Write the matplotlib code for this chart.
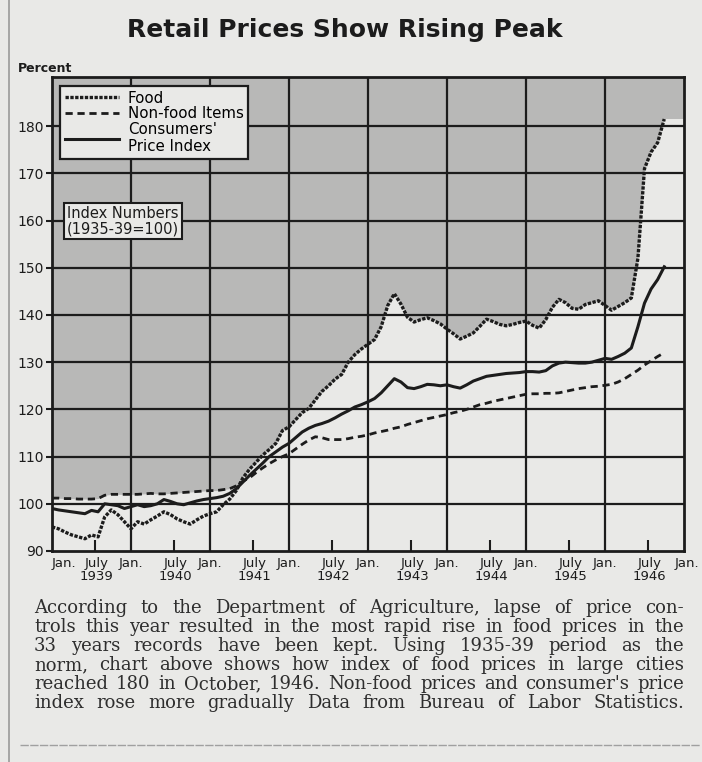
import numpy as np
import matplotlib
matplotlib.use("Agg")
from matplotlib import pyplot as plt
from matplotlib.lines import Line2D

# monthly index values, Jan 1939 .. Oct 1946 (1935-39 = 100)
food = [95.1, 94.7, 94.0, 93.4, 93.0, 92.6, 93.4, 93.0, 97.2, 98.7, 97.7, 96.2,      # 1939
        94.7, 96.2, 95.7, 96.6, 97.4, 98.3, 97.7, 96.8, 96.2, 95.7, 96.6, 97.4,      # 1940
        97.9, 98.3, 99.8, 101.0, 102.8, 105.5, 107.3, 108.8, 110.3, 111.5, 112.8, 115.5,  # 1941
        116.3, 117.8, 119.3, 120.2, 122.0, 123.8, 125.0, 126.4, 127.4, 130.0, 131.6, 132.8,  # 1942
        133.8, 134.8, 137.5, 142.0, 144.5, 142.3, 139.5, 138.5, 139.0, 139.4, 138.8, 138.1,  # 1943
        137.0, 136.0, 134.9, 135.5, 136.2, 137.6, 139.1, 138.6, 138.0, 137.7, 138.0, 138.4,  # 1944
        138.7, 137.8, 137.2, 139.0, 141.6, 143.3, 142.6, 141.4, 141.2, 142.2, 142.6, 143.0,  # 1945
        142.0, 141.0, 141.8, 142.6, 143.6, 152.0, 171.0, 174.5, 176.5, 181.5]             # 1946

nonfood = [101.2, 101.2, 101.1, 101.1, 101.0, 101.0, 101.0, 101.1, 101.8, 102.0, 102.0, 102.0,
           102.0, 102.0, 102.1, 102.2, 102.1, 102.1, 102.2, 102.3, 102.4, 102.5, 102.6, 102.7,
           102.8, 102.8, 103.0, 103.2, 103.8, 104.8, 105.5, 106.6, 107.6, 108.5, 109.3, 110.0,
           110.6, 111.6, 112.6, 113.5, 114.2, 114.0, 113.6, 113.6, 113.6, 113.8, 114.1, 114.3,
           114.6, 115.0, 115.3, 115.6, 116.0, 116.3, 116.8, 117.2, 117.6, 118.0, 118.3, 118.6,
           118.9, 119.3, 119.6, 120.0, 120.5, 121.0, 121.3, 121.7, 122.0, 122.3, 122.6, 122.9,
           123.2, 123.3, 123.3, 123.4, 123.4, 123.5, 123.8, 124.1, 124.4, 124.6, 124.8, 124.9,
           125.1, 125.3, 125.8, 126.5, 127.4, 128.3, 129.4, 130.3, 131.2, 132.0]

cpi = [99.0, 98.7, 98.5, 98.3, 98.1, 97.9, 98.6, 98.3, 100.0, 99.8, 99.6, 99.0,
       99.4, 99.8, 99.4, 99.6, 100.0, 100.9, 100.5, 100.0, 99.8, 100.2, 100.6, 100.9,
       101.1, 101.3, 101.6, 102.2, 103.2, 104.6, 106.0, 107.3, 108.6, 110.0, 111.0, 112.0,
       112.8, 114.0, 115.2, 116.0, 116.6, 117.0, 117.5, 118.2, 119.0, 119.7, 120.5, 121.0,
       121.6, 122.3, 123.5, 125.0, 126.5, 125.8, 124.6, 124.4, 124.8, 125.3, 125.2, 125.0,
       125.2, 124.8, 124.5, 125.2, 126.0, 126.5, 127.0, 127.2, 127.4, 127.6, 127.7, 127.8,
       128.0, 128.0, 127.9, 128.2, 129.2, 129.8, 130.0, 129.9, 129.8, 129.8, 130.0, 130.4,
       130.8, 130.6, 131.2, 131.9, 133.0, 137.5, 142.5, 145.5, 147.5, 150.2]

years = ["1939", "1940", "1941", "1942", "1943", "1944", "1945", "1946"]
y_ticks = [90, 100, 110, 120, 130, 140, 150, 160, 170, 180]

caption = [
    "According to the Department of Agriculture, lapse of price con-",
    "trols this year resulted in the most rapid rise in food prices in the",
    "33 years records have been kept.  Using 1935-39 period as the",
    "norm, chart above shows how index of food prices in large cities",
    "reached 180 in October, 1946. Non-food prices and consumer's price",
    "index rose more gradually   Data from Bureau of Labor Statistics.",
]

ink = "#1c1c1c"
paper = "#e9e9e7"
shade = "#b8b8b7"

W, H = 702, 762
fig = plt.figure(figsize=(W / 100, H / 100), dpi=100, facecolor=paper)
ax = fig.add_axes([52 / W, 1 - 551 / H, 632 / W, 474 / H])
ax.set_facecolor(paper)

months = np.arange(len(food))
top_line = np.maximum(np.maximum(food, nonfood), cpi)
ymax = 190.4
ax.fill_between(months, top_line, ymax, color=shade, lw=0, zorder=0)
ax.fill_between([months[-1], 96], food[-1], ymax, color=shade, lw=0, zorder=0)

ax.set_xlim(0, 96)
ax.set_ylim(90, ymax)

# grid
for m in range(12, 96, 12):
    ax.axvline(m, color=ink, lw=1.6, zorder=1)
for v in y_ticks[1:]:
    ax.axhline(v, color=ink, lw=1.6, zorder=1)

ax.plot(months, nonfood, color=ink, lw=2.0, dashes=(2.6, 1.7), zorder=3)
ax.plot(months, cpi, color=ink, lw=2.2, zorder=3)
ax.plot(months, food, color=ink, lw=2.4, linestyle=(0, (1.0, 0.45)), zorder=4)

for s in ax.spines.values():
    s.set_linewidth(2.0)
    s.set_color(ink)

ax.set_yticks(y_ticks)
ax.set_yticklabels([str(v) for v in y_ticks], fontsize=10, color=ink)
ax.tick_params(axis="y", direction="out", length=4, width=1.5, color=ink, pad=2)
ax.set_xticks([])
ax.set_xticks([m + 6.5 for m in range(0, 96, 12)], minor=True)
ax.tick_params(axis="x", which="minor", direction="in", length=8, width=1.5, color=ink)

# x labels
tr = ax.get_xaxis_transform()
for i, yr in enumerate(years):
    jx = i * 12 + (1.8 if i == 0 else 0)
    ax.text(jx, -0.012, "Jan.", transform=tr, ha="center", va="top", fontsize=9.5, color=ink)
    ax.text(i * 12 + 6.8, -0.012, "July\n" + yr, transform=tr, ha="center", va="top",
            fontsize=9.5, color=ink, linespacing=1.05)
ax.text(96.4, -0.012, "Jan.", transform=tr, ha="center", va="top", fontsize=9.5, color=ink)

# legend
handles = [
    Line2D([], [], color=ink, lw=2.4, linestyle=(0, (1.0, 0.45))),
    Line2D([], [], color=ink, lw=2.0, dashes=(2.6, 1.7)),
    Line2D([], [], color=ink, lw=2.2),
]
leg = ax.legend(handles, ["Food", "Non-food Items", "Consumers'\nPrice Index"],
                loc="upper left", bbox_to_anchor=(0.013, 0.981), borderaxespad=0,
                fontsize=10.8, handlelength=3.6, handletextpad=0.6, labelspacing=0.05,
                borderpad=0.3, fancybox=False, framealpha=1, facecolor=paper,
                edgecolor=ink)
leg.get_frame().set_linewidth(1.6)
leg.set_zorder(6)

ax.text(0.112, 0.696, "Index Numbers\n(1935-39=100)", transform=ax.transAxes,
        ha="center", va="center", fontsize=10.5, color=ink, linespacing=1.0, zorder=6,
        bbox=dict(boxstyle="square,pad=0.2", fc=paper, ec=ink, lw=1.5))

fig.text(345 / W, 1 - 30 / H, "Retail Prices Show Rising Peak", ha="center", va="center",
         fontsize=18, fontweight="bold", color=ink)
fig.text(18 / W, 1 - 68 / H, "Percent", ha="left", va="center", fontsize=9,
         fontweight="bold", color=ink)

# justified caption
renderer = fig.canvas.get_renderer()
x0, x1 = 34, 684
for li, line in enumerate(caption):
    y = 1 - (608 + li * 19) / H
    words = line.split()
    arts = [fig.text(0, y, w, ha="left", va="center", fontsize=13,
                     family="DejaVu Serif", color="#2e2e2e") for w in words]
    widths = [a.get_window_extent(renderer).width for a in arts]
    gap = (x1 - x0 - sum(widths)) / (len(words) - 1)
    xp = x0
    for a, w in zip(arts, widths):
        a.set_x(xp / W)
        xp += w + gap

# column rules of the page
fig.add_artist(Line2D([9 / W, 9 / W], [0, 1], color="#9a9a9a", lw=1.2))
fig.add_artist(Line2D([20 / W, 700 / W], [1 - 745 / H] * 2, color="#a0a0a0", lw=1.0,
                      dashes=(6, 1)))

fig.savefig("out.png", dpi=100, facecolor=paper)
